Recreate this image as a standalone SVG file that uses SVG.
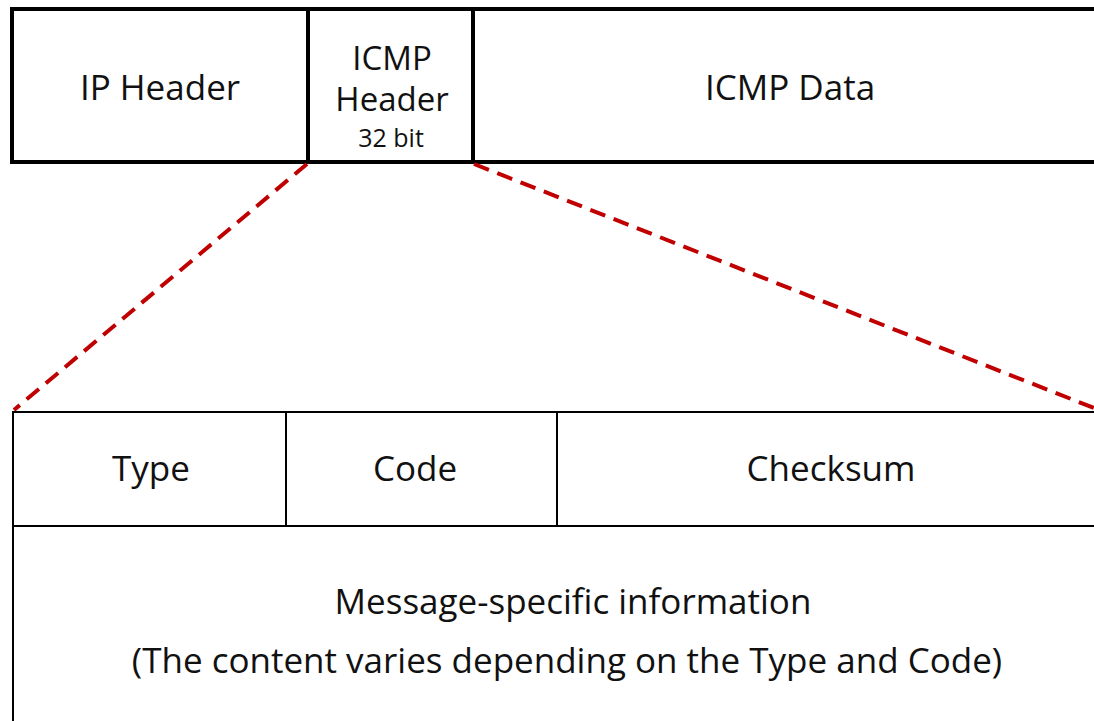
<svg xmlns="http://www.w3.org/2000/svg" width="1094" height="721" viewBox="0 0 1094 721">
<style>
.t{font-family:"Open Sans","Noto Sans","Liberation Sans",sans-serif;fill:#111;text-anchor:middle;font-size:35px}
.h{font-size:33px}
.s{font-size:25px}
.thick{fill:#fff;stroke:#000;stroke-width:4}
.thin{fill:#fff;stroke:#000;stroke-width:2}
.dash{stroke:#c00000;stroke-width:4;stroke-dasharray:16 9;fill:none}
</style>
<rect width="1094" height="721" fill="#fff"/>
<g id="packet">
<g id="ip-header"><rect class="thick" x="12" y="9" width="296" height="153"/><text class="t" x="160" y="100">IP Header</text></g>
<g id="icmp-header"><rect class="thick" x="308" y="9" width="165" height="153"/><text class="t h" x="392" y="70">ICMP</text><text class="t h" x="392" y="111">Header</text><text class="t s" x="391" y="147">32 bit</text></g>
<g id="icmp-data"><rect class="thick" x="473" y="9" width="640" height="153"/><text class="t" x="790" y="100">ICMP Data</text></g>
</g>
<g id="connectors">
<line class="dash" x1="307" y1="164" x2="14" y2="410"/>
<line class="dash" x1="474" y1="164" x2="1094" y2="408"/>
</g>
<g id="icmp-fields">
<g id="type"><rect class="thin" x="13" y="412" width="273" height="114"/><text class="t" x="151" y="481">Type</text></g>
<g id="code"><rect class="thin" x="286" y="412" width="271" height="114"/><text class="t" x="415" y="481">Code</text></g>
<g id="checksum"><rect class="thin" x="557" y="412" width="550" height="114"/><text class="t" x="831" y="481">Checksum</text></g>
<g id="message"><rect class="thin" x="13" y="526" width="1094" height="210"/><text class="t" x="573" y="614">Message-specific information</text><text class="t" x="567" y="673">(The content varies depending on the Type and Code)</text></g>
</g>
</svg>
